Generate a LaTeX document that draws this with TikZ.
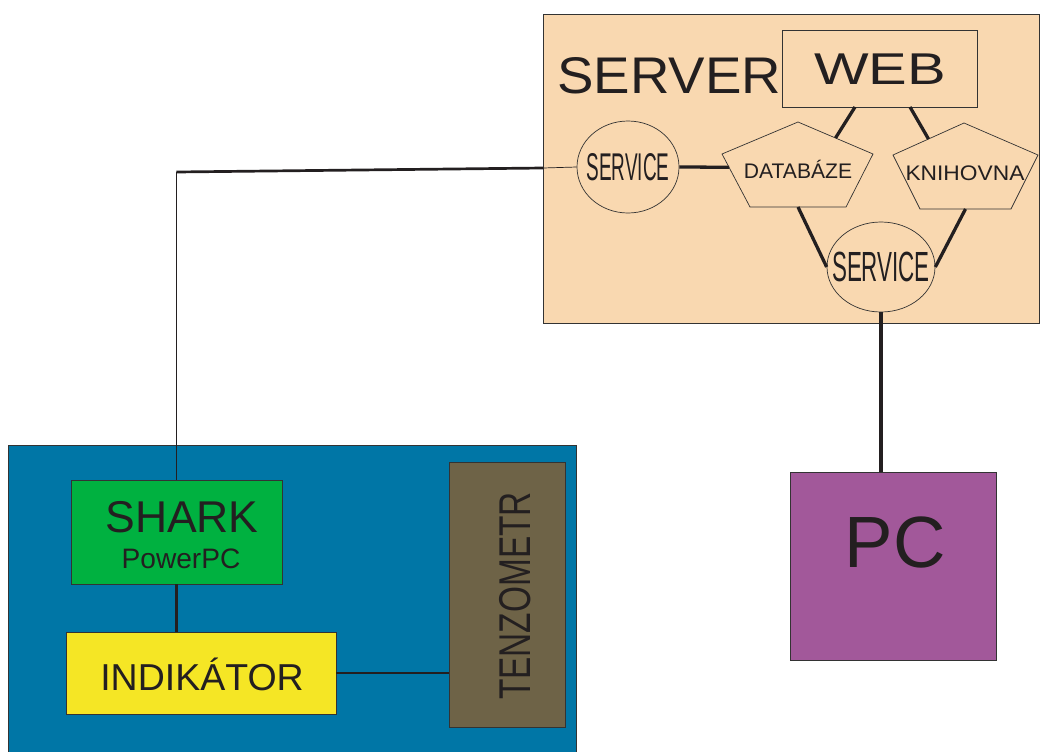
\documentclass[tikz,border=0pt]{standalone}
\usepackage{graphicx}
\usepackage{fontspec}
\setmainfont{Liberation Sans}
\usetikzlibrary{shapes.geometric,calc}
\definecolor{peach}{HTML}{F9D8B0}
\definecolor{bluebg}{HTML}{0076A6}
\definecolor{greenbox}{HTML}{00B140}
\definecolor{yellowbox}{HTML}{F5E625}
\definecolor{tenzbox}{HTML}{6E6347}
\definecolor{pcbox}{HTML}{A2589A}
\definecolor{ink}{HTML}{231F20}
\definecolor{bord}{HTML}{333333}
\begin{document}
\begin{tikzpicture}[x=0.03cm,y=-0.03cm,
  box/.style={draw=bord, line width=0.8pt, rectangle, inner sep=0pt},
  oval/.style={draw=bord, line width=0.6pt, ellipse, inner sep=0pt, fill=peach, text=ink},
  pent/.style={draw=bord, line width=0.6pt, fill=peach},
  txt/.style={text=ink, inner sep=0pt},
  conn/.style={draw=ink, line width=2.8pt},
  connB/.style={draw=ink, line width=2.3pt},
  connC/.style={draw=ink, line width=3.4pt},
  thinconn/.style={draw=ink, line width=0.6pt}]
\useasboundingbox (0,0) rectangle (1040,751);

% containers
\node[box, fill=peach, minimum width=14.88cm, minimum height=9.27cm] (server) at (791,168.5) {};
\node[box, fill=bluebg, minimum width=17.04cm, minimum height=9.3cm] (blue) at (292,600.5) {};

% SERVER label
\node[txt, anchor=base west] (servertext) at (557,93) {\fontsize{44}{48}\selectfont\scalebox{1.06}[1]{SERVER}};

% WEB
\node[box, fill=peach, minimum width=5.85cm, minimum height=2.31cm] (web) at (879.5,68.5) {};
\node[txt, anchor=base] (webtext) at (880,84) {\fontsize{38}{40}\selectfont\scalebox{1.3}[1]{WEB}};

% service ellipses
\node[oval, minimum width=3.06cm, minimum height=2.76cm] (s1) at (628,167) {\makebox[0pt]{\fontsize{33}{36}\selectfont\scalebox{0.49}[1]{SERVICE}}};
\node[oval, minimum width=3.24cm, minimum height=2.7cm] (s2) at (881,267) {\makebox[0pt]{\fontsize{36}{38}\selectfont\scalebox{0.53}[1]{SERVICE}}};

% pentagons
\coordinate (dbT) at (798,122); \coordinate (dbR) at (873,154);
\coordinate (dbBR) at (846,207); \coordinate (dbBL) at (750,207);
\coordinate (dbL) at (722,154);
\draw[pent] (dbT) -- (dbR) -- (dbBR) -- (dbBL) -- (dbL) -- cycle;
\node[txt, anchor=base] (db) at (798,178) {\fontsize{18}{20}\selectfont DATABÁZE};

\coordinate (knT) at (964,123); \coordinate (knR) at (1038,155);
\coordinate (knBR) at (1011,209); \coordinate (knBL) at (920,209);
\coordinate (knL) at (893,155);
\draw[pent] (knT) -- (knR) -- (knBR) -- (knBL) -- (knL) -- cycle;
\node[txt, anchor=base] (kn) at (965,180) {\fontsize{18}{20}\selectfont\scalebox{1.08}[1]{KNIHOVNA}};

% lower boxes
\node[box, fill=greenbox, minimum width=6.33cm, minimum height=3.12cm] (shark) at (176.5,532) {};
\node[txt, anchor=base] (sharktext) at (182,532) {\fontsize{38}{40}\selectfont SHARK};
\node[txt, anchor=base] (ppctext) at (181,568) {\fontsize{24}{26}\selectfont PowerPC};

\node[box, fill=yellowbox, minimum width=8.1cm, minimum height=2.46cm] (indik) at (201,673) {};
\node[txt, anchor=base] (indiktext) at (202,690) {\fontsize{32}{34}\selectfont INDIKÁTOR};

\node[box, fill=tenzbox, minimum width=3.48cm, minimum height=7.95cm] (tenz) at (507,594.5) {};
\node[txt, anchor=base, rotate=90] (tenztext) at (530,596) {\fontsize{38}{40}\selectfont\scalebox{0.75}[1]{TENZOMETR}};

\node[box, fill=pcbox, minimum width=6.18cm, minimum height=5.64cm] (pc) at (893,566) {};
\node[txt] (pctext) at (895,542) {\fontsize{62}{64}\selectfont PC};

% connectors
\coordinate (webA) at (855,107);
\coordinate (webB) at (910,107);
\draw[conn] (webA) -- ($(dbT)!0.5!(dbR)$);
\draw[conn] (webB) -- ($(knT)!0.5!(knL)$);
\draw[conn] (s1.east) -- ($(dbL)!0.25!(dbBL)$);
\draw[conn] ($(dbBL)!0.5!(dbBR)$) -- (s2.west);
\draw[conn] ($(knBL)!0.5!(knBR)$) -- (s2.east);
\draw[connC] (s2.south) -- (s2.south |- pc.north);

\coordinate (edge) at (543,168);
\coordinate (corner) at (176.5,172);
\draw[thinconn] (s1.west) -- (edge);
\draw[connB] (edge) -- (corner);
\draw[thinconn] (corner) -- (shark.north);

\draw[connB] (shark.south) -- (shark.south |- indik.north);
\draw[connB] (indik.east) -- (indik.east -| tenz.west);
\end{tikzpicture}
\end{document}
